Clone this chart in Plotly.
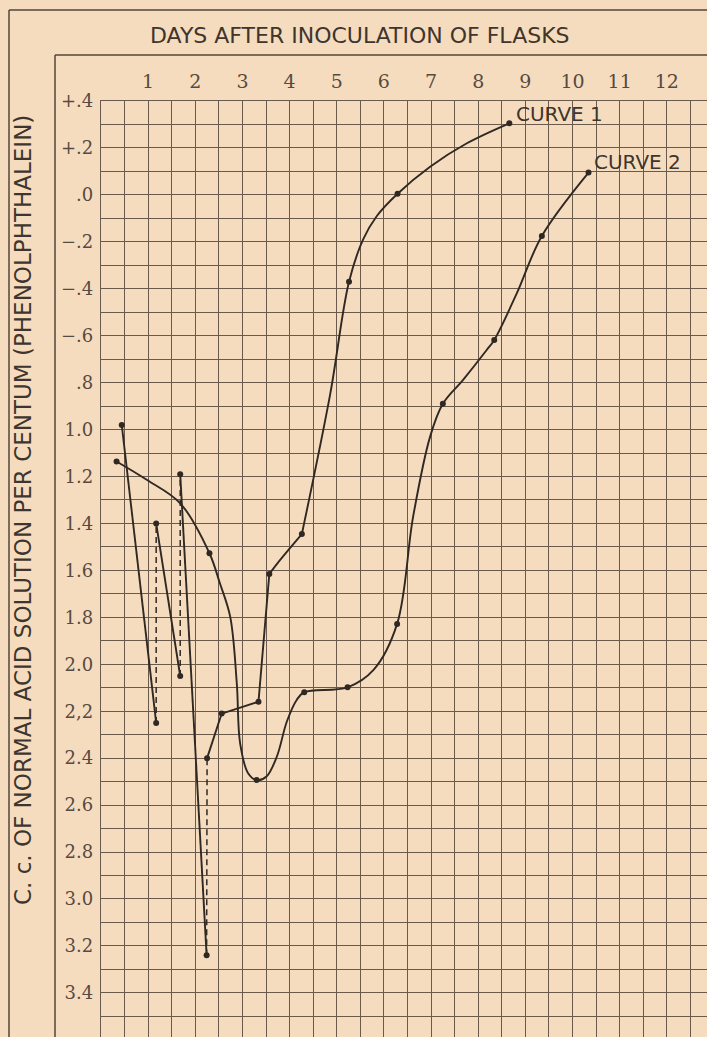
import plotly.graph_objects as go

# ---------------- data ----------------
DAY_TICKS = [1, 2, 3, 4, 5, 6, 7, 8, 9, 10, 11, 12]

Y_TICK_VALUES = [0.4, 0.2, 0.0, -0.2, -0.4, -0.6, -0.8, -1.0, -1.2, -1.4, -1.6,
                 -1.8, -2.0, -2.2, -2.4, -2.6, -2.8, -3.0, -3.2, -3.4]
Y_TICK_LABELS = ["+.4", "+.2", ".0", "\u2212.2", "\u2212.4", "\u2212.6", ".8",
                 "1.0", "1.2", "1.4", "1.6", "1.8", "2.0", "2,2", "2.4", "2.6",
                 "2.8", "3.0", "3.2", "3.4"]

# Curve 1 : measured points (saw-tooth part + later part)
CURVE1_DAYS = [0.44, 1.17, 1.17, 1.68, 1.68, 2.24, 2.25, 2.56, 3.34, 3.57,
               4.26, 5.26, 6.29, 8.66]
CURVE1_VALUES = [-0.98, -2.25, -1.40, -2.05, -1.19, -3.24, -2.40, -2.21, -2.16,
                 -1.615, -1.445, -0.37, 0.005, 0.305]
# style of the segment joining point i to point i+1
CURVE1_SEGMENT_STYLE = ["solid", "dash", "solid", "dash", "solid", "dash",
                        "solid", "solid", "solid"]
# drawn course of curve 1 between day 3.57 and 4.26
CURVE1_KNEE_DAYS = [3.57, 3.80, 4.26]
CURVE1_KNEE_VALUES = [-1.615, -1.555, -1.445]
# smooth drawn course of curve 1 after day 4.26
CURVE1_PATH_DAYS = [4.26, 4.86, 5.26, 5.56, 5.85, 6.29, 6.98, 7.76, 8.66]
CURVE1_PATH_VALUES = [-1.445, -0.85, -0.37, -0.19, -0.09, 0.005, 0.12, 0.22, 0.305]

# Curve 2 : measured points
CURVE2_DAYS = [0.33, 2.30, 3.30, 4.31, 5.23, 6.28, 7.25, 8.34, 9.35, 10.34]
CURVE2_VALUES = [-1.136, -1.527, -2.493, -2.119, -2.098, -1.828, -0.890, -0.618,
                 -0.175, 0.095]
# drawn course of curve 2
CURVE2_PATH_DAYS = [0.33, 0.97, 1.68, 2.30, 2.52, 2.74, 2.88, 2.95, 3.12, 3.30,
                    3.51, 3.73, 3.94, 4.15, 4.31, 5.23, 5.78, 6.28, 6.62, 6.98,
                    7.25, 7.68, 8.18, 8.34, 8.82, 9.35, 10.34]
CURVE2_PATH_VALUES = [-1.136, -1.214, -1.314, -1.527, -1.654, -1.797, -2.081,
                      -2.336, -2.464, -2.493, -2.478, -2.393, -2.245, -2.152,
                      -2.119, -2.098, -2.024, -1.828, -1.371, -1.030, -0.890,
                      -0.788, -0.661, -0.618, -0.419, -0.175, 0.095]

TITLE_X = "DAYS AFTER INOCULATION OF FLASKS"
TITLE_Y = "C. c. OF NORMAL ACID SOLUTION PER CENTUM (PHENOLPHTHALEIN)"
CURVE_LABELS = ["CURVE 1", "CURVE 2"]

# ---------------- styling ----------------
W, H = 707, 1037
ML, MT = 101, 101
PX_PER_DAY = 47.15
PX_PER_UNIT = 234.7
PAPER = "#f6dcbf"
GRID = "#6a5a4c"
INK = "#2f2823"
TEXT = "#3e352e"
LABEL = "#564a41"

x_range = [0, (W - ML) / PX_PER_DAY]
y_range = [0.4 - (H - MT) / PX_PER_UNIT, 0.4]


def px_x(px):
    return (px - ML) / (W - ML)


def px_y(py):
    return (H - py) / (H - MT)


fig = go.Figure()

# curve 1 saw-tooth part: solid and dashed pieces
solid_x, solid_y, dash_x, dash_y = [], [], [], []
for i, style in enumerate(CURVE1_SEGMENT_STYLE):
    tx, ty = (solid_x, solid_y) if style == "solid" else (dash_x, dash_y)
    tx += [CURVE1_DAYS[i], CURVE1_DAYS[i + 1], None]
    ty += [CURVE1_VALUES[i], CURVE1_VALUES[i + 1], None]

fig.add_trace(go.Scatter(x=solid_x, y=solid_y, mode="lines",
                         line=dict(color=INK, width=1.9), hoverinfo="skip"))
fig.add_trace(go.Scatter(x=dash_x, y=dash_y, mode="lines",
                         line=dict(color=INK, width=1.5, dash="6px,4px"),
                         hoverinfo="skip"))
for xs, ys in [(CURVE1_KNEE_DAYS, CURVE1_KNEE_VALUES),
               (CURVE1_PATH_DAYS, CURVE1_PATH_VALUES),
               (CURVE2_PATH_DAYS, CURVE2_PATH_VALUES)]:
    fig.add_trace(go.Scatter(x=xs, y=ys, mode="lines",
                             line=dict(color=INK, width=1.9, shape="spline",
                                       smoothing=1.0),
                             hoverinfo="skip"))
fig.add_trace(go.Scatter(x=CURVE1_DAYS, y=CURVE1_VALUES, mode="markers",
                         marker=dict(color=INK, size=6), name="Curve 1"))
fig.add_trace(go.Scatter(x=CURVE2_DAYS, y=CURVE2_VALUES, mode="markers",
                         marker=dict(color=INK, size=6), name="Curve 2"))

grid_common = dict(showgrid=True, gridcolor=GRID, gridwidth=1, zeroline=False,
                   showline=True, linecolor=GRID, linewidth=1.2, ticks="")

fig.update_xaxes(range=x_range, side="top", tickmode="array", tickvals=DAY_TICKS,
                 ticktext=[str(d) for d in DAY_TICKS],
                 tickfont=dict(family="DejaVu Serif", size=19, color=LABEL),
                 minor=dict(tick0=0, dtick=0.5, showgrid=True, gridcolor=GRID,
                            gridwidth=1),
                 ticklabelstandoff=4, fixedrange=True, **grid_common)
fig.update_yaxes(range=y_range, tickmode="array", tickvals=Y_TICK_VALUES,
                 ticktext=Y_TICK_LABELS,
                 tickfont=dict(family="DejaVu Serif", size=18, color=LABEL),
                 minor=dict(tick0=0, dtick=0.1, showgrid=True, gridcolor=GRID,
                            gridwidth=1),
                 ticklabelstandoff=3, fixedrange=True, **grid_common)

# frame lines of the printed sheet
frame = [((9, 10), (W, 10)), ((9, 10), (9, H)),
         ((55, 55), (W, 55)), ((55, 55), (55, H))]
shapes = []
for (x0, y0), (x1, y1) in frame:
    shapes.append(dict(type="line", xref="paper", yref="paper",
                       x0=px_x(x0), y0=px_y(y0), x1=px_x(x1), y1=px_y(y1),
                       line=dict(color="#51463d", width=1.5)))

annotations = [
    dict(text=TITLE_X, xref="paper", yref="paper", x=px_x(360), y=px_y(35),
         showarrow=False, xanchor="center", yanchor="middle",
         font=dict(family="DejaVu Sans", size=22, color=TEXT)),
    dict(text=TITLE_Y, xref="paper", yref="paper", x=px_x(23), y=px_y(510),
         showarrow=False, textangle=-90, xanchor="center", yanchor="middle",
         font=dict(family="DejaVu Sans", size=23, color=TEXT)),
    dict(text=CURVE_LABELS[0], x=CURVE1_DAYS[-1], y=CURVE1_VALUES[-1],
         xshift=5, yshift=9, showarrow=False, xanchor="left", yanchor="middle",
         font=dict(family="DejaVu Sans", size=20, color=TEXT)),
    dict(text=CURVE_LABELS[1], x=CURVE2_DAYS[-1], y=CURVE2_VALUES[-1],
         xshift=3, yshift=11, showarrow=False, xanchor="left", yanchor="middle",
         font=dict(family="DejaVu Sans", size=20, color=TEXT)),
]

fig.update_layout(width=W, height=H, margin=dict(l=ML, r=0, t=MT, b=0, pad=0),
                  paper_bgcolor=PAPER, plot_bgcolor=PAPER, showlegend=False,
                  shapes=shapes, annotations=annotations)

fig.write_html("out.html",
               config={"displayModeBar": False, "staticPlot": True},
               post_script="document.body.style.margin='0px';"
                           "document.body.style.padding='0px';"
                           "document.body.style.background='" + PAPER + "';")
